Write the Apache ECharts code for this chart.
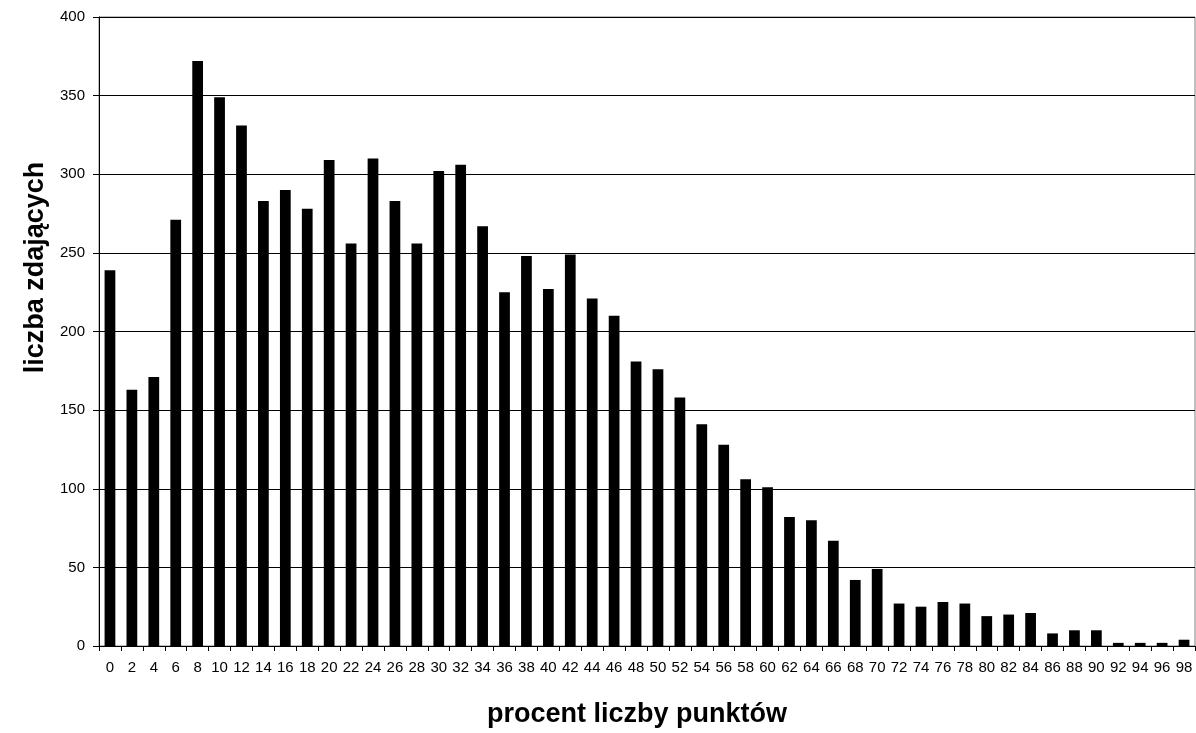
<!DOCTYPE html>
<html>
<head>
<meta charset="utf-8">
<script src="https://cdn.jsdelivr.net/npm/echarts@6/dist/echarts.min.js"></script>
<style>
html,body{margin:0;padding:0;background:#fff;}
#c{width:1196px;height:733px;}
</style>
</head>
<body>
<div id="c"></div>
<script>
const categories = ['0','2','4','6','8','10','12','14','16','18','20','22','24','26','28','30','32','34','36','38','40','42','44','46','48','50','52','54','56','58','60','62','64','66','68','70','72','74','76','78','80','82','84','86','88','90','92','94','96','98'];
const counts = [239,163,171,271,372,349,331,283,290,278,309,256,310,283,256,302,306,267,225,248,227,249,221,210,181,176,158,141,128,106,101,82,80,67,42,49,27,25,28,27,19,20,21,8,10,10,2,2,2,4];
const yTicks = [0,50,100,150,200,250,300,350,400];
const xTitle = 'procent liczby punktów';
const yTitle = 'liczba zdających';

const FONT = 'Liberation Sans, Arial, sans-serif';
const chart = echarts.init(document.getElementById('c'), null, {renderer:'canvas'});
chart.setOption({
  animation:false,
  backgroundColor:'#ffffff',
  textStyle:{fontFamily:FONT},
  grid:{left:99,right:1,top:17,bottom:87,show:true,borderColor:'#808080',borderWidth:1,backgroundColor:'transparent'},
  xAxis:{
    type:'category',
    data:categories,
    name:xTitle,
    nameLocation:'middle',
    nameGap:55,
    nameTextStyle:{fontSize:27,fontWeight:'bold',color:'#000',fontFamily:FONT,padding:[0,20,0,0]},
    axisLine:{lineStyle:{color:'#000',width:1}},
    axisTick:{show:true,length:5,lineStyle:{color:'#000'}},
    axisLabel:{interval:0,fontSize:15,color:'#000',margin:14},
    splitLine:{show:false}
  },
  yAxis:{
    type:'value',
    min:yTicks[0],
    max:yTicks[yTicks.length-1],
    interval:50,
    name:yTitle,
    nameLocation:'middle',
    nameGap:50,
    nameTextStyle:{fontSize:27,fontWeight:'bold',color:'#000',fontFamily:FONT,padding:[0,0,0,128]},
    axisLine:{show:true,lineStyle:{color:'#000',width:1}},
    axisTick:{show:true,length:6,lineStyle:{color:'#000'}},
    axisLabel:{fontSize:15,color:'#000',margin:14},
    splitLine:{show:true,lineStyle:{color:'#000',width:1}}
  },
  series:[{
    type:'bar',
    data:counts,
    barWidth:'49%',
    itemStyle:{color:'#000'}
  }]
});
</script>
</body>
</html>
